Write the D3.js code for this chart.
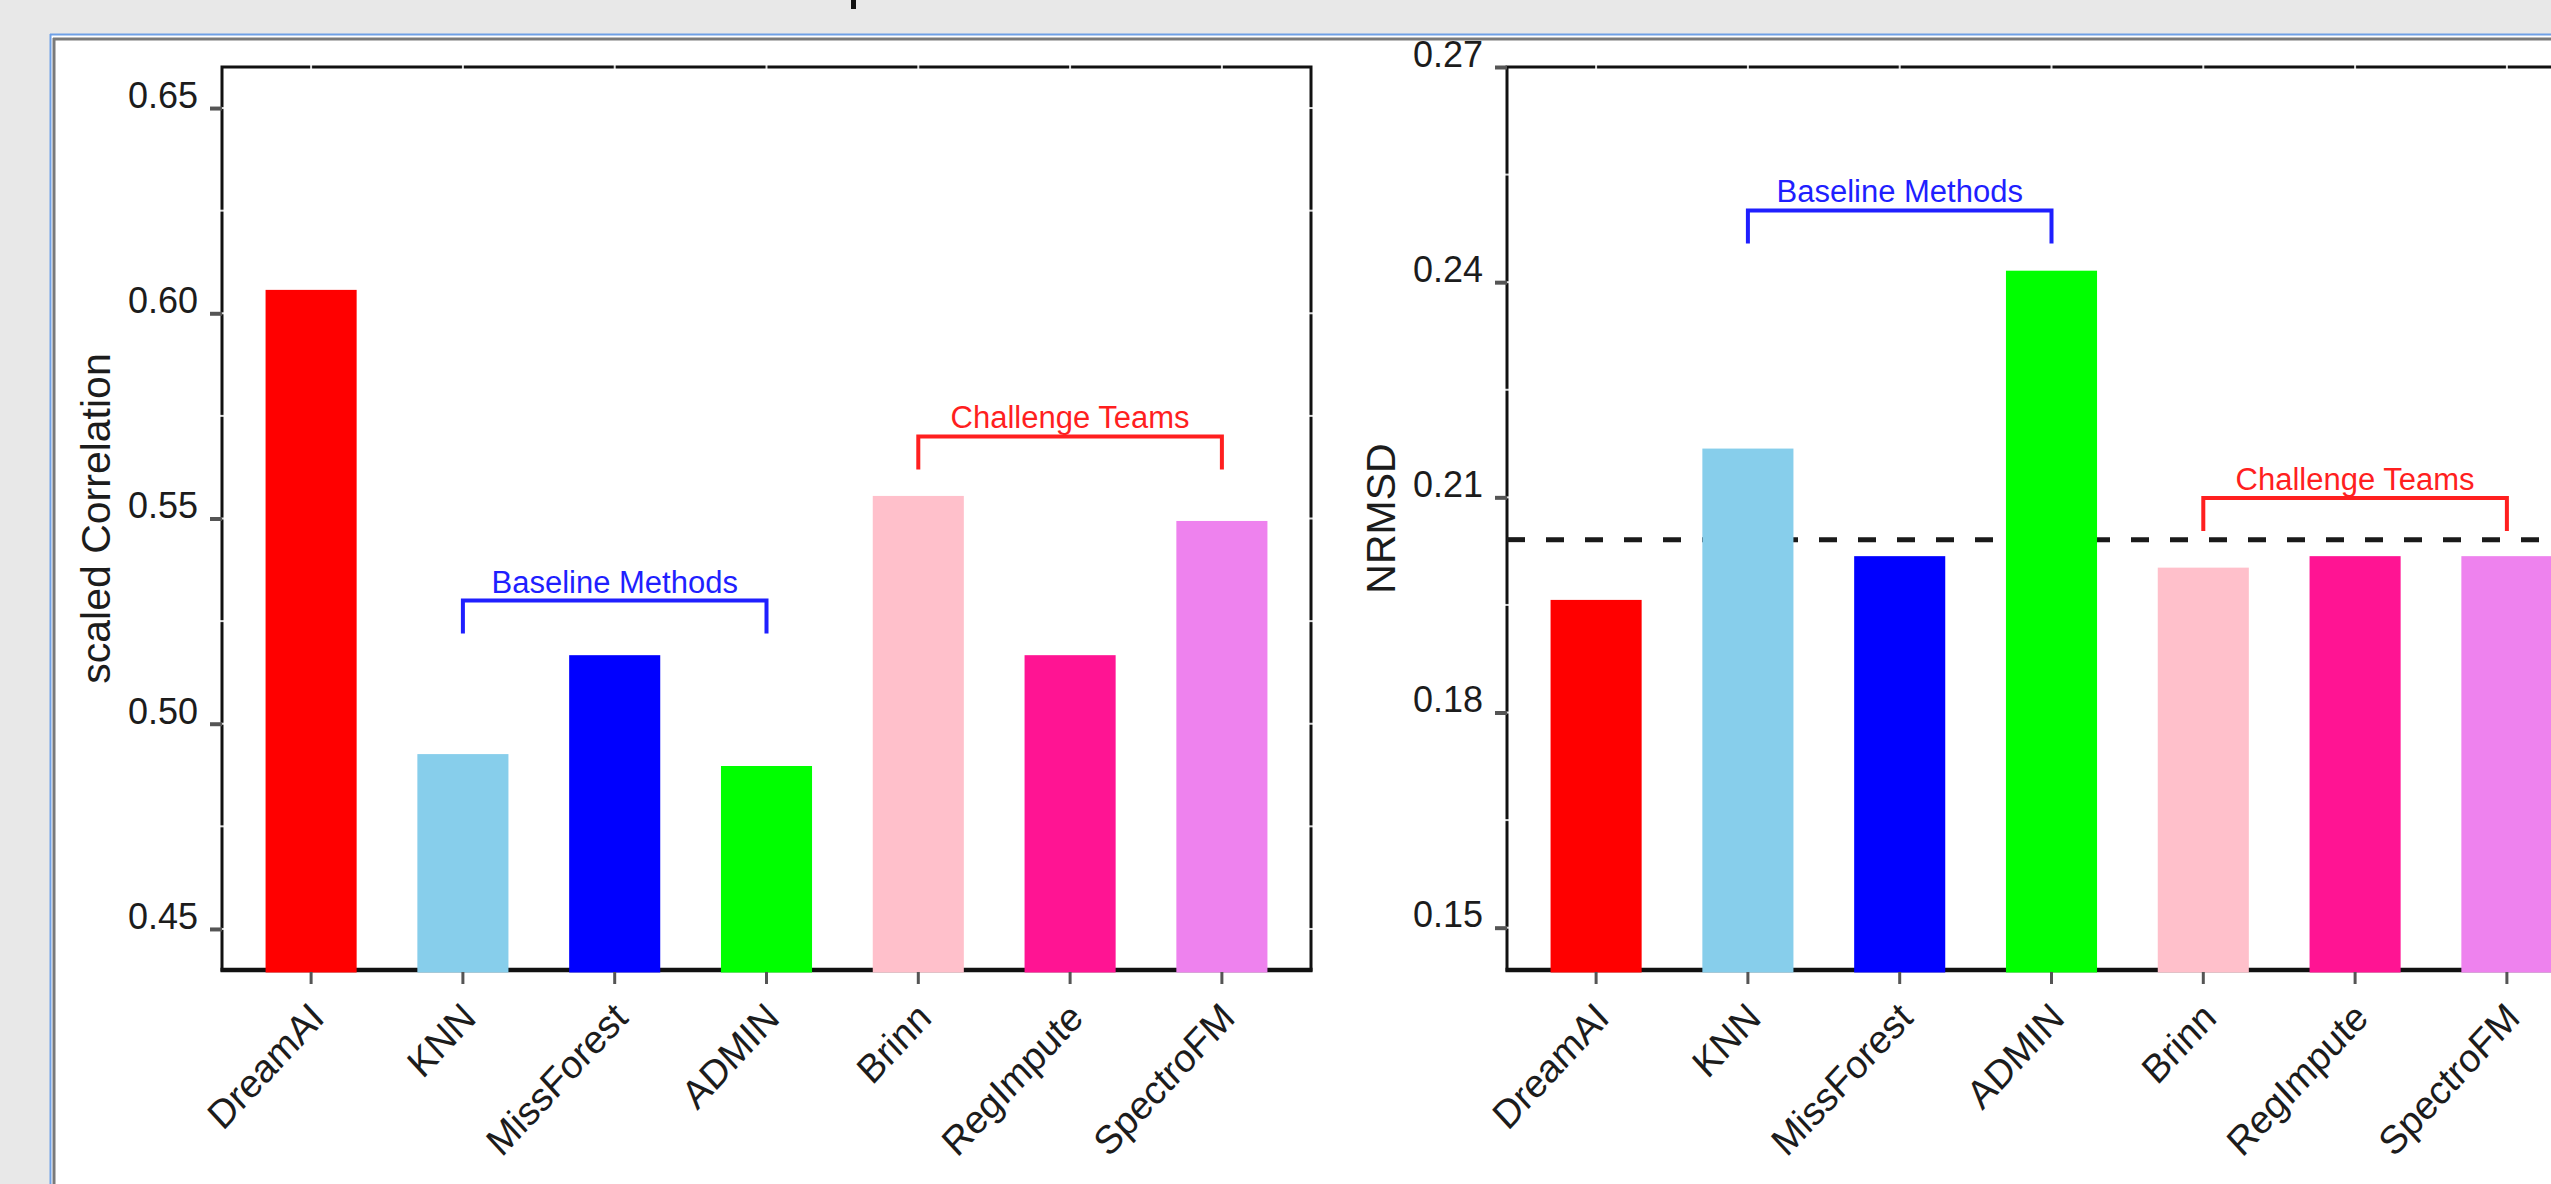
<!DOCTYPE html>
<html>
<head>
<meta charset="utf-8">
<script src="https://cdn.jsdelivr.net/npm/d3@7"></script>
<style>
  html, body { margin: 0; padding: 0; background: #e8e8e8; overflow: hidden; }
  svg { display: block; }
  text { font-family: "Liberation Sans", Arial, Helvetica, sans-serif; }
</style>
</head>
<body>
<svg id="fig" width="2551" height="1184"></svg>
<script>
// Imputation methods and their bar colours
const methods = ["DreamAI", "KNN", "MissForest", "ADMIN", "Brinn", "RegImpute", "SpectroFM"];
const barColors = ["#ff0000", "#87ceeb", "#0000ff", "#00ff00", "#ffc0cb", "#ff1493", "#ee82ee"];

// Scaled correlation per method (left panel)
const corrValues = [0.6057, 0.4926, 0.5167, 0.4897, 0.5555, 0.5167, 0.5494];
const corrDomain = [0.44, 0.66];
const corrTicks = [0.45, 0.50, 0.55, 0.60, 0.65];
const corrTickLabels = ["0.45", "0.50", "0.55", "0.60", "0.65"];
const corrMinorStep = 0.025;

// NRMSD per method (right panel) and the reference level drawn dashed
const nrmsdValues = [0.1957, 0.2168, 0.2018, 0.2416, 0.2002, 0.2018, 0.2018];
const nrmsdDomain = [0.1441, 0.27];
const nrmsdTicks = [0.15, 0.18, 0.21, 0.24, 0.27];
const nrmsdTickLabels = ["0.15", "0.18", "0.21", "0.24", "0.27"];
const nrmsdMinorStep = 0.015;
const nrmsdReference = 0.2041;

// Method groups marked with brackets
const groupLabels = ["Baseline Methods", "Challenge Teams"];
const groupColors = ["#1f1fff", "#ff1f1f"];
const groupSpans = [["KNN", "ADMIN"], ["Brinn", "SpectroFM"]];
const corrGroupLevels = [0.530, 0.570];
const nrmsdGroupLevels = [0.250, 0.2099];

const svg = d3.select("#fig");

// Window-like backdrop
svg.append("rect").attr("x", 0).attr("y", 0).attr("width", 2551).attr("height", 1184).attr("fill", "#e8e8e8");
svg.append("rect").attr("x", 51).attr("y", 35).attr("width", 2600).attr("height", 1300)
  .attr("fill", "#ffffff");
svg.append("line").attr("x1", 50).attr("x2", 2551).attr("y1", 34.5).attr("y2", 34.5)
  .attr("stroke", "#6fa0e6").attr("stroke-width", 2);
svg.append("line").attr("x1", 50.5).attr("x2", 50.5).attr("y1", 34).attr("y2", 1184)
  .attr("stroke", "#6fa0e6").attr("stroke-width", 2);
svg.append("line").attr("x1", 53).attr("x2", 2551).attr("y1", 39).attr("y2", 39)
  .attr("stroke", "#7a7a7a").attr("stroke-width", 3);
svg.append("line").attr("x1", 54).attr("x2", 54).attr("y1", 38).attr("y2", 1184)
  .attr("stroke", "#7a7a7a").attr("stroke-width", 3);
// fragment of a stroke poking in above the window
svg.append("rect").attr("x", 851).attr("y", 0).attr("width", 5).attr("height", 9).attr("fill", "#111");

function drawPanel(opts) {
  const { left, top, width, height, domain, values, ticks, tickLabels, minorStep,
          title, groupLevels, reference } = opts;
  const g = svg.append("g").attr("transform", `translate(${left},${top})`);

  const x = d3.scaleBand().domain(methods).range([0, width])
    .paddingInner(0.4).paddingOuter(0.287);
  const y = d3.scaleLinear().domain(domain).range([height, 0]);
  const bw = x.bandwidth();

  // plot frame
  g.append("rect").attr("x", 0).attr("y", 0).attr("width", width).attr("height", height)
    .attr("fill", "none").attr("stroke", "#111").attr("stroke-width", 3);
  g.append("line").attr("x1", -1.5).attr("x2", width + 1.5).attr("y1", height).attr("y2", height)
    .attr("stroke", "#111").attr("stroke-width", 4.5);

  // light inner tick notches on the frame
  const minor = d3.range(domain[0] - (domain[0] % minorStep) + minorStep, domain[1] + 1e-9, minorStep)
    .filter(v => y(v) > 4 && y(v) < height - 4);
  [0, width].forEach(edge => {
    g.selectAll(null).data(minor).enter().append("line")
      .attr("x1", edge - 2).attr("x2", edge + 2)
      .attr("y1", d => y(d)).attr("y2", d => y(d))
      .attr("stroke", "#ffffff").attr("stroke-width", 2).attr("opacity", 0.85);
  });
  g.selectAll(null).data(methods).enter().append("line")
    .attr("x1", d => x(d) + bw / 2).attr("x2", d => x(d) + bw / 2)
    .attr("y1", -2).attr("y2", 2)
    .attr("stroke", "#ffffff").attr("stroke-width", 2).attr("opacity", 0.85);

  // reference level
  if (reference !== undefined) {
    g.append("line").attr("x1", 0).attr("x2", width)
      .attr("y1", y(reference)).attr("y2", y(reference))
      .attr("stroke", "#1a1a1a").attr("stroke-width", 5)
      .attr("stroke-dasharray", "18 21");
  }

  // bars (drawn over the bottom axis line)
  g.selectAll("rect.bar").data(methods).enter().append("rect")
    .attr("class", "bar")
    .attr("x", d => x(d))
    .attr("width", bw)
    .attr("y", (d, i) => y(values[i]))
    .attr("height", (d, i) => y(domain[0]) - y(values[i]) + 2.5)
    .attr("fill", (d, i) => barColors[i]);

  // y axis
  const yAxis = d3.axisLeft(y).tickValues(ticks)
    .tickFormat((d, i) => tickLabels[i]).tickSize(12).tickPadding(12);
  const ya = g.append("g").call(yAxis);
  ya.select(".domain").remove();
  ya.selectAll(".tick line").attr("stroke", "#555").attr("stroke-width", 4);
  ya.selectAll(".tick text").attr("dy", "-0.02em").attr("fill", "#1c1c1c")
    .attr("font-size", 36).attr("font-family", "Liberation Sans, Arial, sans-serif");

  // x axis
  const xAxis = d3.axisBottom(x).tickSize(14).tickFormat(d => d);
  const xa = g.append("g").attr("transform", `translate(0,${height})`).call(xAxis);
  xa.select(".domain").remove();
  xa.selectAll(".tick line").attr("stroke", "#555").attr("stroke-width", 3).attr("y1", 2);
  xa.selectAll(".tick text")
    .attr("y", null).attr("dy", null)
    .attr("text-anchor", "end")
    .attr("transform", `translate(15,50) scale(1,1.08) rotate(-45)`)
    .attr("fill", "#1c1c1c").attr("font-size", 37)
    .attr("font-family", "Liberation Sans, Arial, sans-serif");

  // y title
  g.append("text")
    .attr("transform", `translate(-112,${height / 2}) rotate(-90)`)
    .attr("text-anchor", "middle")
    .attr("font-size", 41).attr("fill", "#1c1c1c")
    .text(title);

  // group brackets
  groupLabels.forEach((label, k) => {
    const a = x(groupSpans[k][0]) + bw / 2;
    const b = x(groupSpans[k][1]) + bw / 2;
    const ly = y(groupLevels[k]);
    g.append("path")
      .attr("d", `M${a},${ly + 33} V${ly} H${b} V${ly + 33}`)
      .attr("fill", "none").attr("stroke", groupColors[k]).attr("stroke-width", 4);
    g.append("text")
      .attr("x", (a + b) / 2).attr("y", ly - 8)
      .attr("text-anchor", "middle")
      .attr("font-size", 31).attr("fill", groupColors[k])
      .text(label);
  });
}

drawPanel({
  left: 222, top: 67, width: 1089, height: 903,
  domain: corrDomain, values: corrValues,
  ticks: corrTicks, tickLabels: corrTickLabels, minorStep: corrMinorStep,
  title: "scaled Correlation", groupLevels: corrGroupLevels
});

drawPanel({
  left: 1507, top: 67, width: 1089, height: 903,
  domain: nrmsdDomain, values: nrmsdValues,
  ticks: nrmsdTicks, tickLabels: nrmsdTickLabels, minorStep: nrmsdMinorStep,
  title: "NRMSD", groupLevels: nrmsdGroupLevels, reference: nrmsdReference
});
</script>
</body>
</html>
